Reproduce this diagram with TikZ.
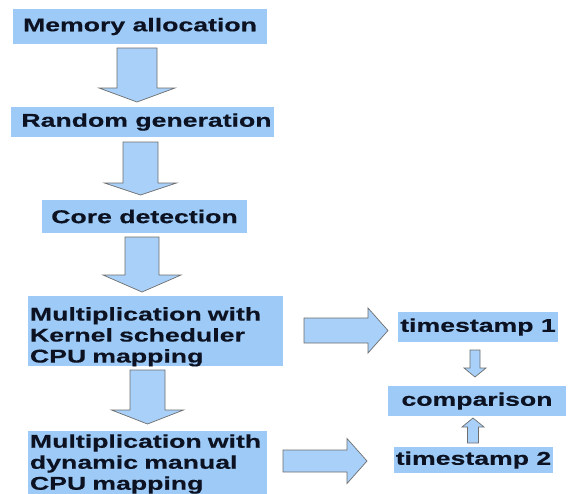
\documentclass[tikz,border=0pt]{standalone}
\usepackage{fontspec}
\setmainfont{Liberation Sans}[FakeStretch=1.44, BoldFeatures={FakeBold=0.4}]
\definecolor{boxblue}{HTML}{9DCAF6}
\definecolor{arrblue}{HTML}{A8D0F8}
\definecolor{arrline}{HTML}{6E6E6E}
\definecolor{txt}{HTML}{0C1222}
\newcommand\blockdown[6]{% cx, ytop, ybase, ytip, halfshaft, halfhead
  \filldraw[arrowshape] (#1-#5,#2) -- (#1+#5,#2) -- (#1+#5,#3) -- (#1+#6,#3) -- (#1,#4)
    -- (#1-#6,#3) -- (#1-#5,#3) -- cycle;}
\newcommand\blockright[6]{% cy, xleft, xbase, xtip, halfshaft, halfhead
  \filldraw[arrowshape] (#2,#1-#5) -- (#3,#1-#5) -- (#3,#1-#6) -- (#4,#1) -- (#3,#1+#6)
    -- (#3,#1+#5) -- (#2,#1+#5) -- cycle;}
\begin{document}
\begin{tikzpicture}[x=1pt,y=-1pt,
  box/.style={fill=boxblue, inner sep=0pt, text=txt, font=\fontsize{18.5}{21}\selectfont\bfseries},
  arrowshape/.style={fill=arrblue, draw=arrline, line width=0.7pt, line join=miter}]
\useasboundingbox (0,0) rectangle (568,493);
\fill[white] (0,0) rectangle (568,493);
% boxes
\node[box, minimum width=254pt, minimum height=35pt] (mem) at (140,26.5) {Memory allocation};
\node[box, minimum width=263pt, minimum height=30pt] (rnd) at (142.5,122) {\hspace*{8pt}Random generation};
\node[box, minimum width=205pt, minimum height=33pt] (core) at (144.5,216.5) {Core detection};
\node[box, minimum width=255pt, minimum height=70pt, align=left, text width=251pt] (kern) at (155.5,331)
  {\rule{0pt}{25pt}Multiplication with\\Kernel scheduler\\CPU mapping};
\node[box, minimum width=239pt, minimum height=66pt, align=left, text width=235pt] (dyn) at (147.5,464)
  {Multiplication with\\dynamic manual\\CPU mapping};
\node[box, minimum width=160pt, minimum height=30pt] (ts1) at (478,327) {timestamp 1};
\node[box, minimum width=178pt, minimum height=30pt] (cmp) at (477,401) {comparison};
\node[box, minimum width=159pt, minimum height=26pt] (ts2) at (473.5,460) {timestamp 2};
% block arrows
\blockdown{137}{48}{88}{102}{20}{38}
\blockdown{140.5}{142}{183}{195}{17.5}{36}
\blockdown{142}{237}{275}{292}{17}{39}
\blockdown{147.5}{370}{410}{424}{17.5}{36}
\blockright{330.5}{304}{368}{388}{12.5}{22.5}
\blockright{461}{283}{347}{367}{11}{22.5}
\blockdown{475}{350}{368}{377}{5}{11}
\filldraw[arrowshape] (467.5,443) -- (478.5,443) -- (478.5,427) -- (484,427) -- (473,418)
  -- (462,427) -- (467.5,427) -- cycle;
\end{tikzpicture}
\end{document}
